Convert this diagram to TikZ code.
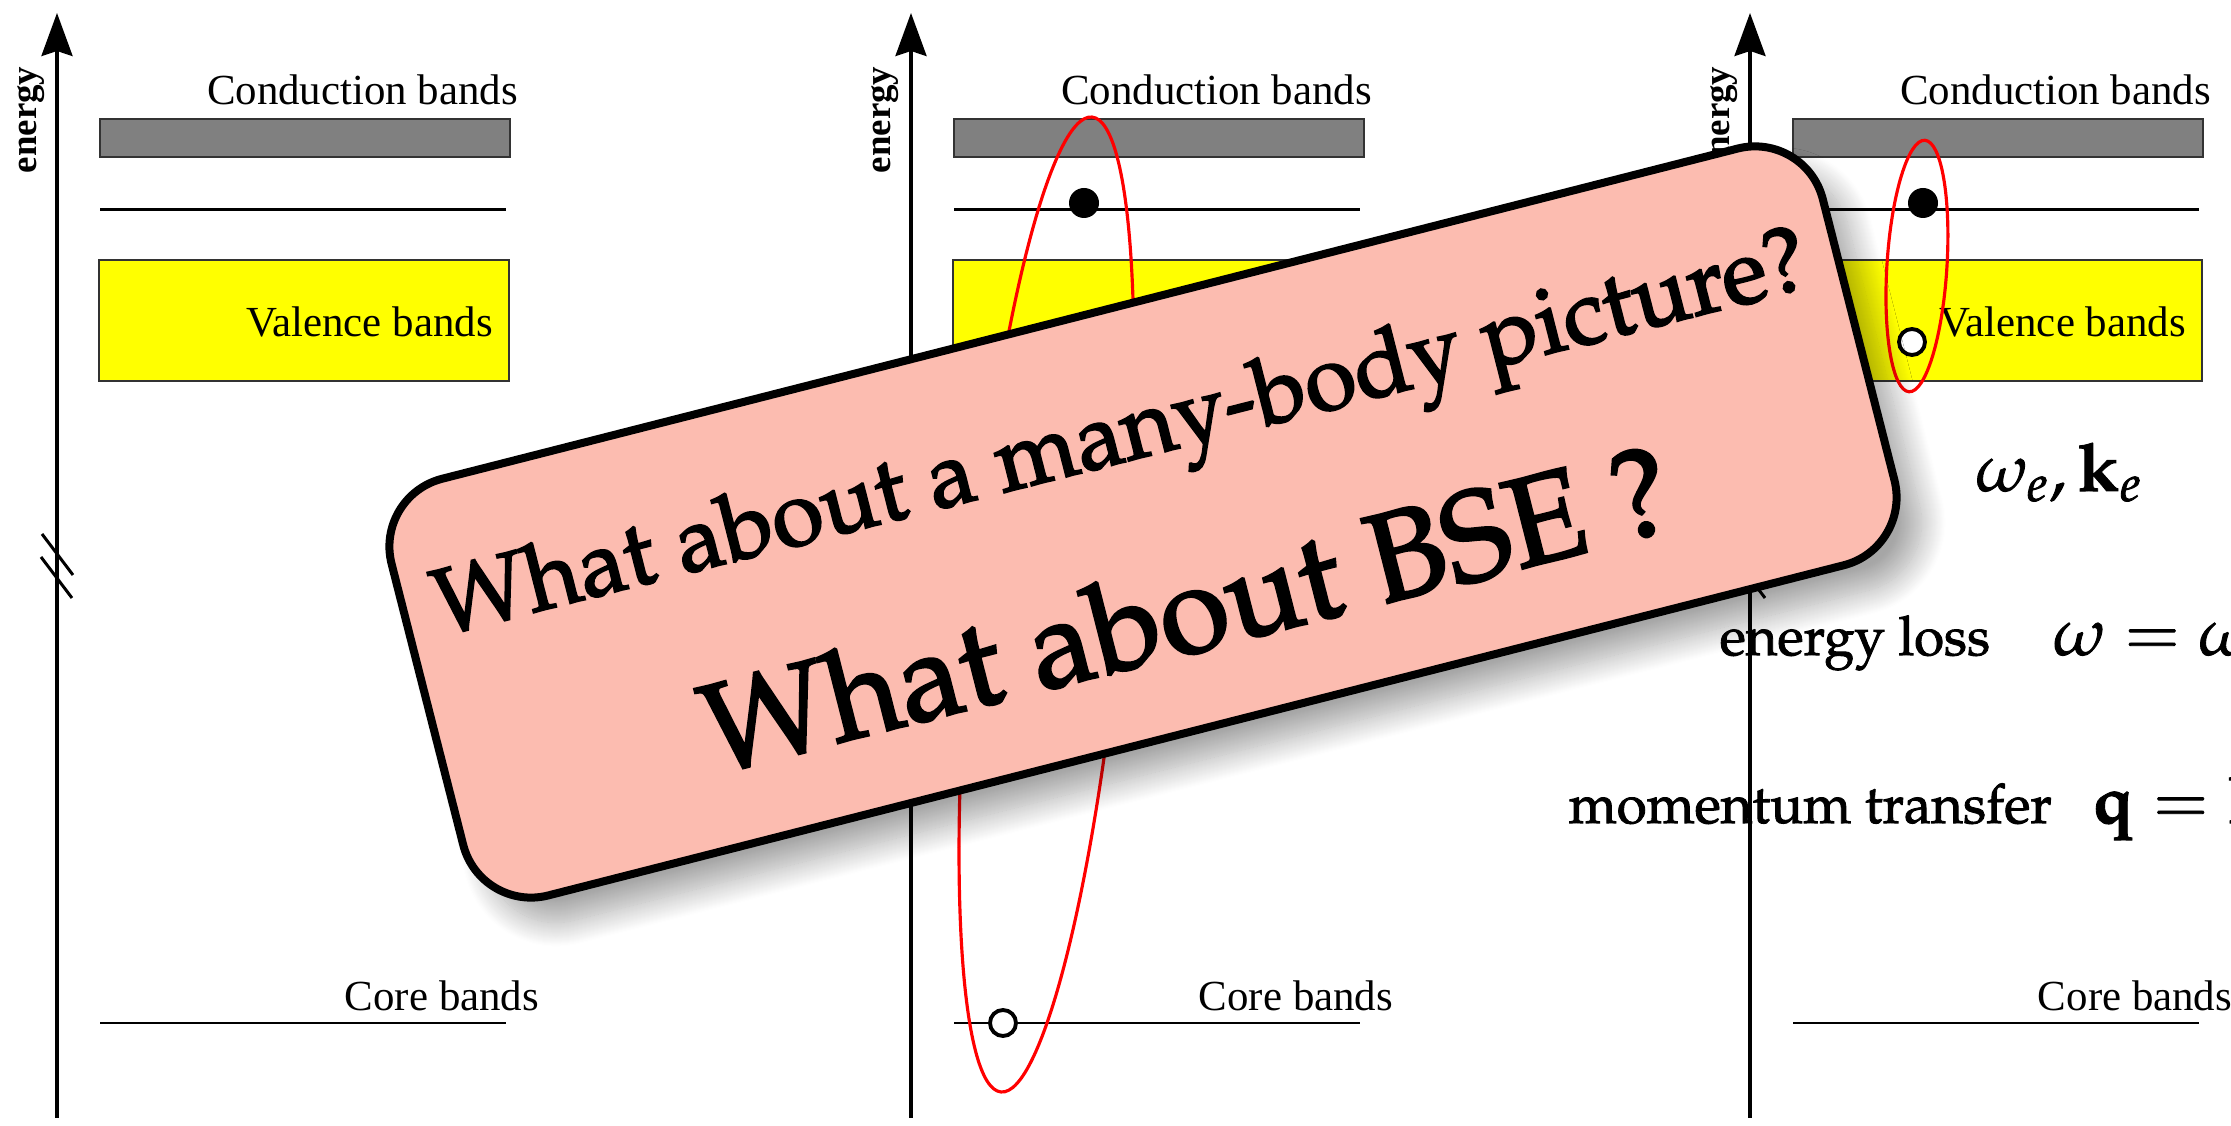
\documentclass[tikz,border=0pt]{standalone}
\usepackage{mathpazo}
\usepackage[no-math]{fontspec}
\setmainfont{Liberation Serif}
\usetikzlibrary{arrows.meta,shadows.blur}
\definecolor{BandGray}{RGB}{128,128,128}
\definecolor{BandYellow}{RGB}{255,255,0}
\definecolor{NoteSalmon}{RGB}{252,188,176}
\newcommand{\pala}{\fontencoding{OT1}\fontfamily{ppl}\selectfont}
\newcommand{\bigmath}{\fontsize{19}{22}\selectfont}
\newcommand{\heavy}[1]{\special{pdf:literal direct 2 Tr #1 w}}

\begin{document}
\begin{tikzpicture}[font=\fontsize{12.2}{14}\selectfont, every node/.style={inner sep=0pt},
  band/.style={draw=black!80, line width=0.3pt, minimum width=4.1cm},
  level/.style={line width=0.85pt},
  axis/.style={line width=0.95pt, -{Stealth[length=0.43cm, width=0.31cm, inset=0.05cm]}},
  exciton/.style={red, line width=0.9pt},
  elec/.style={circle, fill=black, minimum size=0.30cm},
  hole/.style={circle, draw=black, fill=white, line width=1.1pt, minimum size=0.26cm},
  note/.style={font=\pala\fontsize{15.5}{18}\selectfont, anchor=base west},
  bubble/.style={draw=black, line width=0.08cm, fill=NoteSalmon, rounded corners=0.7cm,
    minimum width=14.77cm, minimum height=4.30cm,
    blur shadow={shadow xshift=0.25cm, shadow yshift=-0.25cm, shadow blur radius=0.24cm,
      shadow blur steps=25, shadow opacity=35}}]
  \useasboundingbox (0,0) rectangle (22.31,11.26);
  \clip (0,0) rectangle (22.31,11.26);
  \foreach \dx/\p in {0/a, 8.54/b, 16.93/c} {
    \begin{scope}[xshift=\dx cm]
      \coordinate (axb\p) at (0.57,0.08);
      \coordinate (axt\p) at (0.57,11.13);
      \draw[axis] (axb\p) -- (axt\p);
      \draw[level] (0.42,5.92) -- (0.73,5.51) (0.41,5.69) -- (0.72,5.28);
      \node[rotate=90, font=\fontsize{10.5}{12}\selectfont\bfseries] (en\p) at (0.31,10.06) {energy};
      \node[band, fill=BandGray, minimum height=0.38cm] (cbox\p) at (3.05,9.88) {};
      \draw[level] (1.00,9.16) -- (5.06,9.16);
      \node[band, fill=BandYellow, minimum height=1.21cm] (vbox\p) at (3.04,8.055) {};
      \draw[level] (1.00,1.03) -- (5.06,1.03);
      \node[anchor=base] (cbl\p) at (3.625,10.21) {Conduction bands};
      \node[anchor=base] (vbl\p) at (3.695,7.89) {Valence bands};
      \node[anchor=base] (crl\p) at (4.42,1.15) {Core bands};
    \end{scope}
  }
  \coordinate (xb) at (10.465,5.215);
  \draw[exciton, rotate around={-5.33:(xb)}] (xb) ellipse [x radius=0.75, y radius=4.896];
  \node[elec] (eb) at (10.84,9.23) {};
  \node[hole] (hb) at (10.03,1.03) {};
  \coordinate (xc) at (19.17,8.60);
  \draw[exciton, rotate around={-3.6:(xc)}] (xc) ellipse [x radius=0.30, y radius=1.26];
  \node[elec] (ec) at (19.23,9.23) {};
  \node[hole] (hc) at (19.12,7.84) {};

  \node[note] (wk) at (19.75,6.35) {\heavy{0.25}\bigmath$\omega_e, \mathbf{k}_e$};
  \node[note] (loss) at (17.19,4.71) {\heavy{0.25}energy loss\hspace{0.63cm}\bigmath$\omega = \omega_e - \omega_s$};
  \node[note] (mom) at (15.68,3.03) {\heavy{0.25}momentum transfer\hspace{0.4cm}\bigmath$\mathbf{q} = \mathbf{k}_e - \mathbf{k}_s$};

  \begin{scope}[shift={(11.43,6.04)}, rotate=14.3, transform shape]
    \node[bubble] (box) at (0,0) {};
    \node[anchor=base, font=\pala\fontsize{26.6}{30}\selectfont] (q1) at (0,0.63) {\heavy{0.6}What about a many-body picture?};
    \node[anchor=base, font=\pala\fontsize{35.9}{40}\selectfont] (q2) at (0.2,-1.385) {\heavy{0.8}What about BSE ?};
  \end{scope}
\end{tikzpicture}
\end{document}
